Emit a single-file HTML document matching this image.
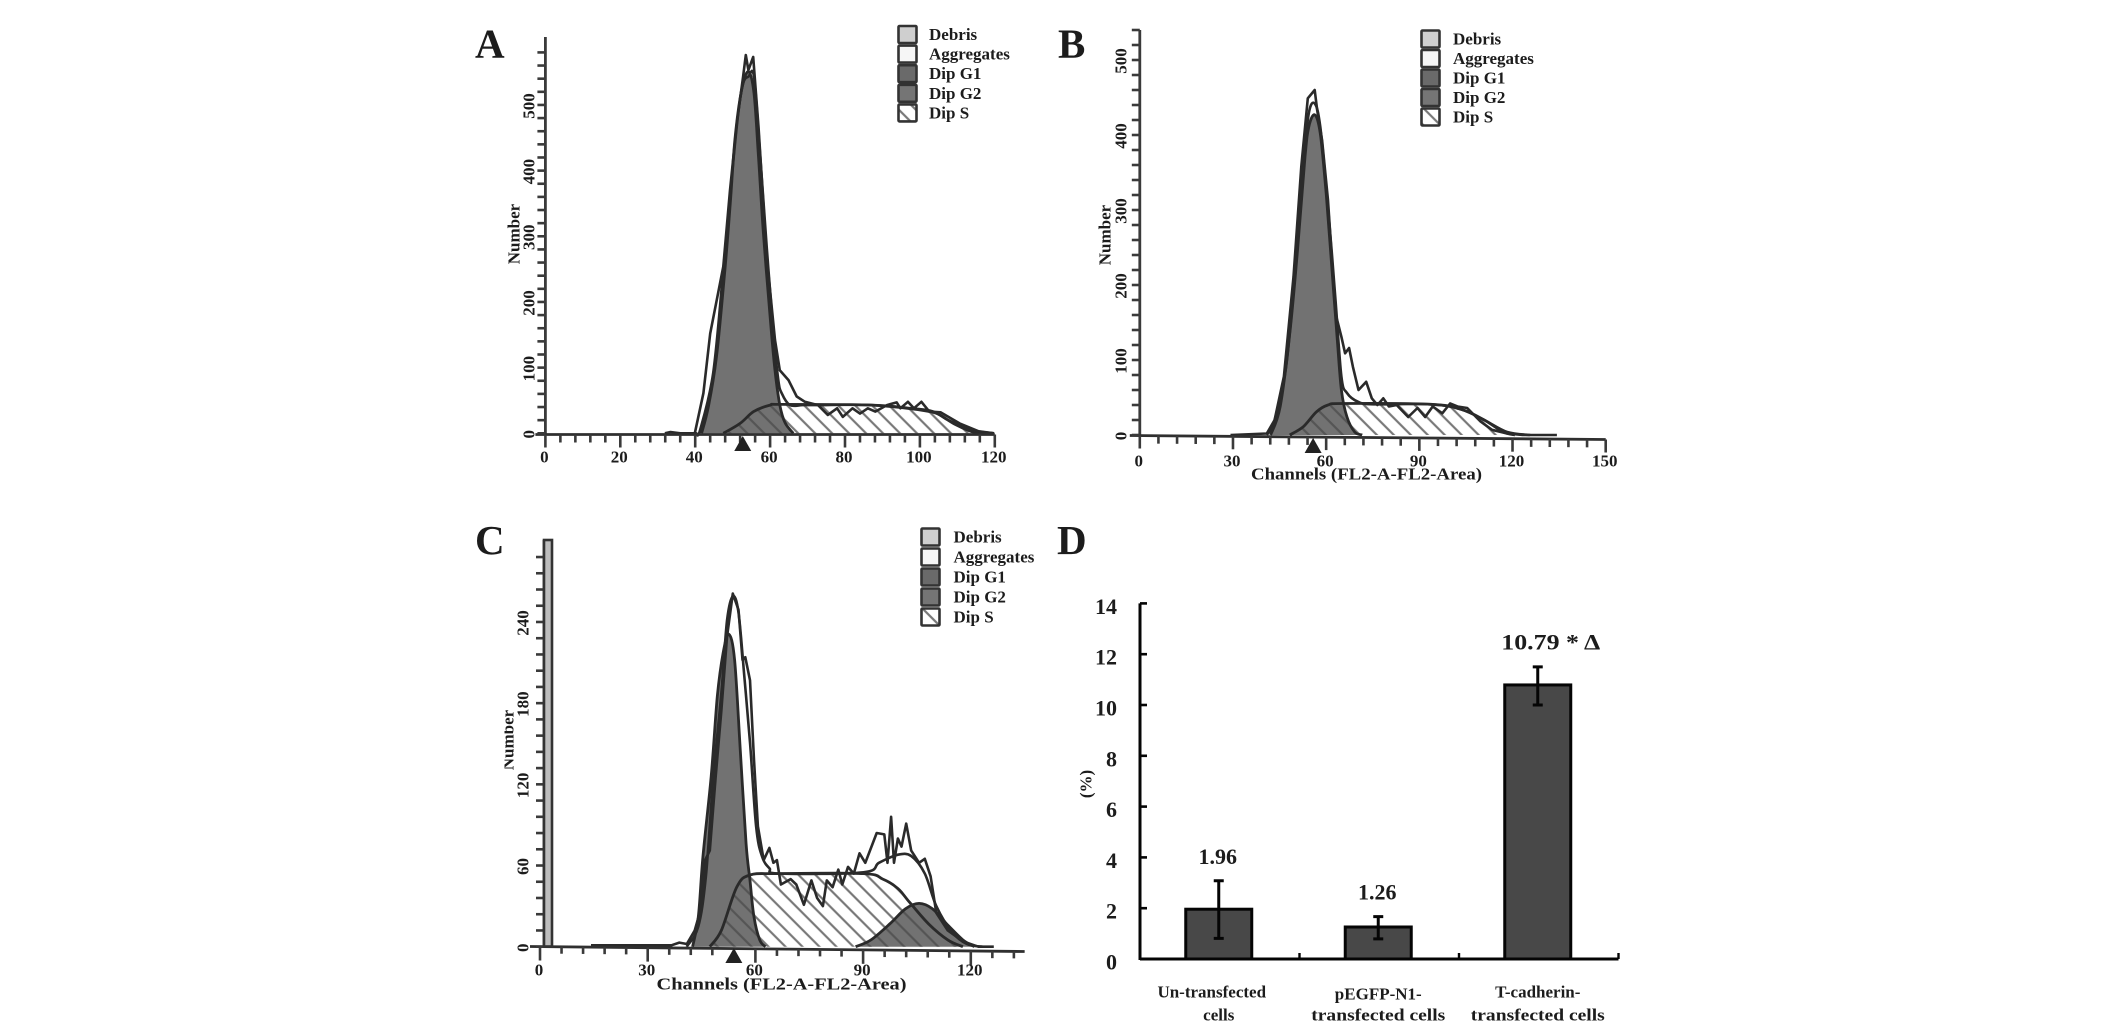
<!DOCTYPE html>
<html lang="en">
<head>
<meta charset="utf-8">
<title>Cell cycle flow cytometry histograms and apoptosis bar chart</title>
<style>
html,body{margin:0;padding:0;background:#fff;}
svg{display:block;}
text{font-family:"Liberation Serif",serif;font-weight:bold;fill:#1c1c1c;}
</style>
</head>
<body>
<svg id="figure" xmlns="http://www.w3.org/2000/svg" width="2126" height="1028" viewBox="0 0 2126 1028">
  <defs>
    <pattern id="hatch" patternUnits="userSpaceOnUse" width="12" height="12" patternTransform="rotate(-45)">
      <line x1="6" y1="0" x2="6" y2="12" stroke="#4a4a4a" stroke-opacity="0.75" stroke-width="2.2"/>
    </pattern>
  </defs>
  <rect width="2126" height="1028" fill="#fff"/>
  <g id="panelA"></g>
  <g id="panelB"></g>
  <g id="panelC"></g>
  <g id="panelD"></g>
</svg>
<script>
const legendLabels = ['Debris', 'Aggregates', 'Dip G1', 'Dip G2', 'Dip S'];

const aXTickLabels = [0, 20, 40, 60, 80, 100, 120];
const aYTickLabels = [0, 100, 200, 300, 400, 500];
const aG1Channels = [41.7,43.5,45.7,48,49.3,50.6,52.4,54.2,55.7,56.9,58.2,60,61.3,62.6,64,66.2];
const aG1Counts = [0,40,117,254,345,447,523,551,518,421,305,178,96,43,16,0];
const aSChannels = [47.5,52,55.6,60,63.1,87.1,97.3,103.5,109.6,114.7,119.3];
const aSCounts = [0,15,33,43,44,43,38,33,13,1,0];
const aFitChannels = [40.3,41.3,44.8,47.5,49.7,51.5,52.8,54.2,55.7,57.3,59.1,60.9,62.2,63.1,65.3,68.7,72.8,87.1,102.5,107.6,113.7,119.8];
const aFitCounts = [0,5,92,249,386,488,533,543,543,427,284,152,81,61,43,43,43,43,33,20,5,0];
const aDataChannels = [31.9,33.4,36,38,39.9,42.2,44,47.5,49.3,51.1,52.8,53.5,54.2,55.5,56.9,59.1,61.3,62.6,64.9,67.1,69.3,72.8,75.4,77.9,79.4,82,84,86.1,88.1,91.2,93.8,94.8,96.8,98.4,100.4,102.5,105.5,110.6,115.7,119.8];
const aDataCounts = [0,2,0,0,0,61,152,254,370,472,543,576,553,573,467,269,142,96,81,56,48,43,28,38,25,38,30,38,33,43,47,38,48,38,48,33,32,15,3,0];

const bXTickLabels = [0, 30, 60, 90, 120, 150];
const bYTickLabels = [0, 100, 200, 300, 400, 500];
const bG1Channels = [42.1,45.2,48.3,50.7,53.2,54.4,56.3,58.1,60,61.8,63.6,64.9,66.7,69.2,71.6];
const bG1Counts = [0,38,136,243,371,411,427,402,322,224,127,60,24,4,0];
const bSChannels = [48.3,52.6,56.9,60.6,65.5,93.7,103.6,110.9,117,120.8];
const bSCounts = [0,11,31,40,42,41,34,20,4,0];
const bFitChannels = [40.9,43.4,47.1,50.1,52.6,54.4,56.3,58.1,60.6,63,64.9,66.7,70.4,75.3,93.7,103.6,110.9,118.3,125.7];
const bFitCounts = [0,20,91,224,358,429,442,411,304,180,78,56,44,41,41,34,20,4,0];
const bDataChannels = [29.2,40.9,43.4,46.4,49.5,52,54.1,56.3,57.1,58.7,60.6,63,64.9,66.1,67.4,68.6,70.4,72.9,74.7,76.5,78.4,80.2,82.7,86.4,89.4,91.9,94.3,97.4,99.9,102.3,105.4,109.7,113.4,118.3,123.2,134.3];
const bDataCounts = [0,2,20,78,211,358,449,460,433,393,313,162,131,109,116,91,60,71,49,40,49,38,40,24,36,24,38,29,42,38,36,18,7,2,0,0];

const cXTickLabels = [0, 30, 60, 90, 120];
const cYTickLabels = [0, 60, 120, 180, 240];
const cG1Channels = [42.5,44.1,45.4,47.7,49.4,51,52.6,54.2,55.8,57.4,58.5,59.6,61.2,62.8];
const cG1Counts = [0,22,67,126,185,217,231,212,145,76,49,22,5,0];
const cG2Channels = [87.9,92.2,97.5,101.8,105.6,109.3,113.6,117.8,121];
const cG2Counts = [0,5,17,28,32,28,16,5,0];
const cSChannels = [47.3,50.5,54.8,58.5,66.6,90.1,95.5,99.7,102.9,108.2,113.6,117.8];
const cSCounts = [0,12,44,53,54,54,50,43,33,17,5,0];
const cFitChannels = [40.9,44.1,46.2,48.3,50.5,52.1,53.7,55.3,56.9,58.5,60.2,61.8,63.9,66.6,90.1,94.4,99.7,103.4,107.2,110.4,114.7,118.9,123.2];
const cFitCounts = [0,15,52,126,187,241,259,247,200,151,89,67,58,54,55,62,68,67,54,30,11,2,0];
const cDataChannels = [14.2,30.2,36.6,38.8,40.9,43.1,44.7,46,47.3,48.9,50.5,52.1,53.7,55.3,56.4,57.2,58.5,59.6,60.7,62.3,63.9,65,66,67.1,69.8,71.4,73.5,75.6,77.2,78.8,79.9,81.5,83.1,84.2,85.8,87.4,89,90.6,93.8,95.9,96.8,97.8,98.6,99.7,100.7,102,103.4,105.6,107.2,108.8,110.4,113.6,117.8,122.1,126.4];
const cDataCounts = [1,1,1,3,2,12,27,64,71,125,174,229,261,249,212,214,197,138,89,64,73,62,64,46,50,46,31,49,36,30,49,44,57,46,59,54,69,62,84,83,62,96,62,80,74,91,71,62,65,52,25,12,4,0,0];

const dCategories = [['Un-transfected', 'cells'], ['pEGFP-N1-', 'transfected cells'], ['T-cadherin-', 'transfected cells']];
const dValues = [1.96, 1.26, 10.79];
const dErrorUpper = [3.08, 1.67, 11.5];
const dErrorLower = [0.81, 0.79, 10.0];
const dValueLabels = ['1.96', '1.26', '10.79 * Δ'];
const dYTickLabels = [0, 2, 4, 6, 8, 10, 12, 14];

const NS = 'http://www.w3.org/2000/svg';
function make(parent, tag, attrs) {
  const e = document.createElementNS(NS, tag);
  for (const k in attrs) e.setAttribute(k, attrs[k]);
  parent.appendChild(e);
  return e;
}
function label(parent, str, x, y, size, opts) {
  const o = opts || {};
  const a = {x: x, y: y, 'font-size': size, 'text-anchor': o.anchor || 'middle', 'dominant-baseline': 'central'};
  if (o.rotate) a.transform = 'rotate(-90 ' + x + ' ' + y + ')';
  if (o.len) { a.textLength = o.len; a.lengthAdjust = 'spacingAndGlyphs'; }
  const t = make(parent, 'text', a);
  t.textContent = str;
  return t;
}
function polyPath(xs, ys, X, Y) {
  return xs.map((c, i) => (i ? 'L' : 'M') + X(c).toFixed(1) + ' ' + Y(ys[i]).toFixed(1)).join(' ');
}
function smoothPath(xs, ys, X, Y) {
  const p = xs.map((c, i) => [X(c), Y(ys[i])]);
  let d = 'M' + p[0][0].toFixed(1) + ' ' + p[0][1].toFixed(1);
  for (let i = 0; i < p.length - 1; i++) {
    const a = p[Math.max(i - 1, 0)], b = p[i], c = p[i + 1], e = p[Math.min(i + 2, p.length - 1)];
    const c1x = b[0] + (c[0] - a[0]) / 6, c1y = b[1] + (c[1] - a[1]) / 6;
    const c2x = c[0] - (e[0] - b[0]) / 6, c2y = c[1] - (e[1] - b[1]) / 6;
    d += ' C' + c1x.toFixed(1) + ' ' + c1y.toFixed(1) + ' ' + c2x.toFixed(1) + ' ' + c2y.toFixed(1) + ' ' + c[0].toFixed(1) + ' ' + c[1].toFixed(1);
  }
  return d;
}
const INK = '#2a2a2a';

function drawLegend(g, cfg) {
  const fills = ['#cfcfcf', '#f6f6f6', '#6a6a6a', '#757575', 'url(#hatch)'];
  legendLabels.forEach(function (name, i) {
    const y = cfg.rows[0] + i * cfg.rowGap;
    const sw = make(g, 'rect', {x: cfg.x, y: y - 8.5, width: 18, height: 17, fill: fills[i], stroke: '#333', 'stroke-width': 2.6, rx: 1});
    
    
    const t = label(g, name, cfg.textX, y, 17, {anchor: 'start'});
    
    
  });
}

function drawHistogram(g, cfg) {
  const X = c => cfg.x0 + c * cfg.xs;
  const Y = n => cfg.y0 - n * cfg.ys;
  const g1 = make(g, 'path', {d: smoothPath(cfg.g1x, cfg.g1y, X, Y) + ' Z', fill: '#727272', stroke: 'none'});
  
  
  if (cfg.g2x) {
    const g2 = make(g, 'path', {d: smoothPath(cfg.g2x, cfg.g2y, X, Y) + ' Z', fill: '#727272', stroke: 'none'});
    
    
  }
  const s = make(g, 'path', {d: smoothPath(cfg.sx, cfg.sy, X, Y) + ' Z', fill: 'url(#hatch)', stroke: 'none'});
  
  
  const sl = make(g, 'path', {d: smoothPath(cfg.sx, cfg.sy, X, Y), fill: 'none', stroke: INK, 'stroke-width': 2.8});
  
  
  const g1l = make(g, 'path', {d: smoothPath(cfg.g1x, cfg.g1y, X, Y), fill: 'none', stroke: INK, 'stroke-width': 2.8});
  
  
  if (cfg.g2x) {
    const g2l = make(g, 'path', {d: smoothPath(cfg.g2x, cfg.g2y, X, Y), fill: 'none', stroke: INK, 'stroke-width': 2.8});
    
    
  }
  const fit = make(g, 'path', {d: smoothPath(cfg.fitx, cfg.fity, X, Y), fill: 'none', stroke: INK, 'stroke-width': 2.6});
  
  
  const data = make(g, 'path', {d: polyPath(cfg.datax, cfg.datay, X, Y), fill: 'none', stroke: INK, 'stroke-width': 2.6, 'stroke-linejoin': 'round'});
  
  

  const yAxis = make(g, 'line', {x1: cfg.yAxisX, y1: cfg.yTop, x2: cfg.yAxisX, y2: cfg.axisY, stroke: '#3a3a3a', 'stroke-width': 2.8});
  
  
  const xAxis = make(g, 'line', {x1: cfg.x0 - cfg.zeroTick, y1: cfg.axisY, x2: X(cfg.xMax), y2: cfg.axisY + cfg.axisTilt, stroke: '#2f2f2f', 'stroke-width': 2.8});
  
  

  for (let c = 0; c <= cfg.xMax; c += cfg.xMinor) {
    const yy = cfg.axisY + cfg.axisTilt * c / cfg.xMax;
    const len = cfg.xLabels.indexOf(c) >= 0 ? cfg.majorLen : cfg.tickLen;
    const tk = make(g, 'line', {x1: X(c), y1: yy, x2: X(c), y2: yy + len, stroke: '#3a3a3a', 'stroke-width': 2.6});
    
    
  }
  for (let n = 0; n <= cfg.yMax; n += cfg.yMinor) {
    const tk = make(g, 'line', {x1: cfg.yAxisX - 8, y1: Y(n), x2: cfg.yAxisX, y2: Y(n), stroke: '#3a3a3a', 'stroke-width': 2.6});
    
    
  }
  cfg.xLabels.forEach(function (v) {
    const t = label(g, String(v), X(v) - 1, cfg.xLabelY, 17);
    
    
  });
  cfg.yLabels.forEach(function (v) {
    const t = label(g, String(v), cfg.yLabelX, Y(v) + 1, 17, {rotate: true});
    
    
  });
  const mx = X(cfg.marker), my = cfg.markerY;
  const tri = make(g, 'path', {d: 'M' + (mx - 8.5) + ' ' + (my + 15) + ' L' + mx + ' ' + my + ' L' + (mx + 8.5) + ' ' + (my + 15) + ' Z', fill: '#222'});
  
  

  const yt = label(g, 'Number', cfg.numberX, cfg.numberY, 17, {rotate: true});
  
  
  if (cfg.xTitle) {
    const xt = label(g, 'Channels (FL2-A-FL2-Area)', cfg.xTitle[0], cfg.xTitle[1], 17, {len: cfg.xTitle[2]});
    
    
  }
  const letter = label(g, cfg.letter, cfg.letterX, cfg.letterY, 41, {anchor: 'start'});
  
  
  drawLegend(g, cfg.legend);
}

drawHistogram(document.getElementById('panelA'), {
  x0: 545.4, xs: 3.745, y0: 433.3, ys: 0.6567, xMax: 120, yMax: 580, xMinor: 4, yMinor: 20,
  yAxisX: 545.4, yTop: 37, axisY: 434.5, axisTilt: 0, tickLen: 8, majorLen: 13, zeroTick: 10,
  g1x: aG1Channels, g1y: aG1Counts, sx: aSChannels, sy: aSCounts,
  fitx: aFitChannels, fity: aFitCounts, datax: aDataChannels, datay: aDataCounts,
  xLabels: aXTickLabels, yLabels: aYTickLabels, xLabelY: 457, yLabelX: 529, marker: 52.7, markerY: 436,
  numberX: 514, numberY: 234, letter: 'A', letterX: 475, letterY: 43.5,
  legend: {x: 898.5, rows: [34.5], rowGap: 19.6, textX: 929}
});
drawHistogram(document.getElementById('panelB'), {
  x0: 1139.8, xs: 3.106, y0: 435, ys: 0.75, xMax: 150, yMax: 540, xMinor: 6, yMinor: 20,
  yAxisX: 1139.8, yTop: 30, axisY: 435.5, axisTilt: 4, tickLen: 8, majorLen: 13, zeroTick: 10,
  g1x: bG1Channels, g1y: bG1Counts, sx: bSChannels, sy: bSCounts,
  fitx: bFitChannels, fity: bFitCounts, datax: bDataChannels, datay: bDataCounts,
  xLabels: bXTickLabels, yLabels: bYTickLabels, xLabelY: 461, yLabelX: 1121, marker: 55.8, markerY: 438,
  numberX: 1105, numberY: 235, xTitle: [1366.5, 474, 231], letter: 'B', letterX: 1058, letterY: 43.5,
  legend: {x: 1421.5, rows: [39], rowGap: 19.5, textX: 1453}
});
drawHistogram(document.getElementById('panelC'), {
  x0: 540, xs: 3.59, y0: 946.7, ys: 1.353, xMax: 135, yMax: 288, xMinor: 6, yMinor: 12,
  yAxisX: 544, yTop: 540, axisY: 946.5, axisTilt: 5, tickLen: 7, majorLen: 14, zeroTick: 10,
  g1x: cG1Channels, g1y: cG1Counts, g2x: cG2Channels, g2y: cG2Counts, sx: cSChannels, sy: cSCounts,
  fitx: cFitChannels, fity: cFitCounts, datax: cDataChannels, datay: cDataCounts,
  xLabels: cXTickLabels, yLabels: cYTickLabels, xLabelY: 970, yLabelX: 523, marker: 54, markerY: 948,
  numberX: 508, numberY: 740, xTitle: [781.5, 984, 250], letter: 'C', letterX: 475, letterY: 540,
  legend: {x: 921.5, rows: [537], rowGap: 20, textX: 953.5}
});

(function () {
  const g = document.getElementById('panelC');
  const band = make(g, 'rect', {x: 544, y: 540, width: 8, height: 406.5, fill: '#bdbdbd', stroke: '#333', 'stroke-width': 2.6});
  
  
  const mask = make(g, 'rect', {x: 496, y: 705, width: 8.5, height: 70, fill: '#fff'});
  
  
})();

(function drawBars() {
  const g = document.getElementById('panelD');
  const left = 1140, right = 1618.5, zero = 959, perUnit = 25.4;
  const Y = v => zero - v * perUnit;
  const band = (right - left) / dValues.length;
  const center = i => left + band * (i + 0.5) - 1;
  const barW = 66;
  dValues.forEach(function (v, i) {
    const cx = center(i);
    const bar = make(g, 'rect', {x: cx - barW / 2, y: Y(v), width: barW, height: zero - Y(v), fill: '#484848', stroke: '#050505', 'stroke-width': 3});
    
    
    const err = make(g, 'path', {d: 'M' + (cx - 5) + ' ' + Y(dErrorUpper[i]) + ' H' + (cx + 5) + ' M' + cx + ' ' + Y(dErrorUpper[i]) + ' V' + Y(dErrorLower[i]) + ' M' + (cx - 5) + ' ' + Y(dErrorLower[i]) + ' H' + (cx + 5), fill: 'none', stroke: '#050505', 'stroke-width': 3});
    
    
    const labelX = i === 2 ? cx + 13 : cx - 1;
    const valueLabel = label(g, dValueLabels[i], labelX, Y(dErrorUpper[i]) - (i === 2 ? 25 : 24.5), 22, i === 2 ? {len: 99} : {});
    
    
    dCategories[i].forEach(function (line, j) {
      const rowY = 992 + j * 23 + (i === 1 && j === 0 ? 2 : 0);
      const cat = label(g, line, cx - (i === 0 && j === 0 ? 7 : 0), rowY, 17, i > 0 && j === 1 ? {len: 134} : {});
      
      
    });
  });
  const yAxis = make(g, 'line', {x1: left, y1: Y(14), x2: left, y2: zero + 1, stroke: '#050505', 'stroke-width': 3});
  
  
  const xAxis = make(g, 'line', {x1: left, y1: zero, x2: right, y2: zero, stroke: '#050505', 'stroke-width': 3});
  
  
  dYTickLabels.forEach(function (v) {
    const tk = make(g, 'line', {x1: left, y1: Y(v), x2: left + 7, y2: Y(v), stroke: '#050505', 'stroke-width': 2.6});
    
    
    const t = label(g, String(v), 1117, Y(v) + 3, 22, {anchor: 'end'});
    
    
  });
  for (let i = 1; i <= dValues.length; i++) {
    const x = left + band * i;
    const tk = make(g, 'line', {x1: x, y1: zero, x2: x, y2: zero - 6, stroke: '#050505', 'stroke-width': 2.4});
    
    
  }
  const yt = label(g, '(%)', 1086, 784, 17, {rotate: true});
  
  
  const letter = label(g, 'D', 1057, 540, 41, {anchor: 'start'});
  
  
})();
</script>
</body>
</html>
